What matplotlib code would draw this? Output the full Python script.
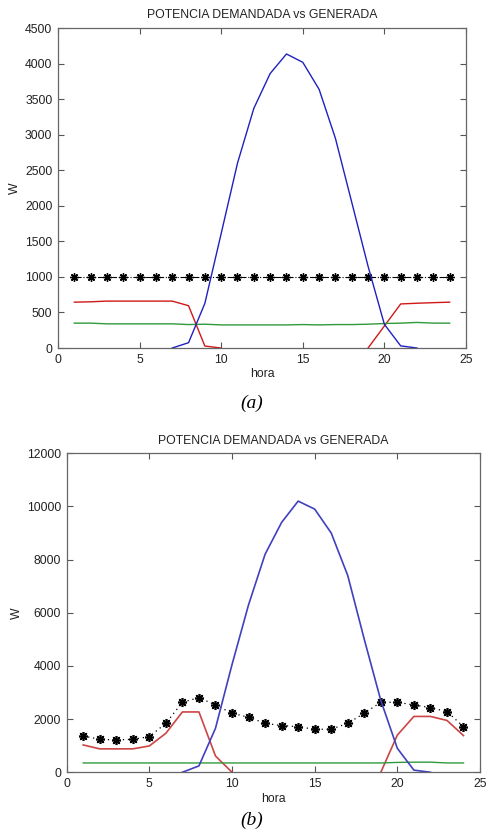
import numpy as np
import matplotlib
matplotlib.use("Agg")
import matplotlib.pyplot as plt

plt.rcParams['font.family'] = ['Liberation Sans', 'DejaVu Sans']

hours = np.arange(1, 25)

# --- caso (a) ---
# demanda constante
dem_a = [1000] * 24
# generacion solar (solo horas 7..22)
sol_hours_a = np.arange(7, 23)
sol_a = [0, 75, 628, 1610, 2600, 3370, 3860, 4135, 4018, 3638, 2949, 2050,
         1150, 333, 30, 0]
# red electrica: manana (1..10) y noche (19..24)
red_m_hours_a = np.arange(1, 11)
red_m_a = [645, 650, 660, 660, 660, 660, 660, 595, 28, 0]
red_n_hours_a = np.arange(19, 25)
red_n_a = [0, 310, 620, 630, 638, 645]
# otra fuente
gen_a = [350, 350, 340, 340, 340, 340, 340, 330, 335, 325, 325, 325,
         325, 325, 330, 325, 330, 330, 335, 345, 350, 360, 350, 350]

# --- caso (b) ---
dem_b = [1366, 1240, 1215, 1240, 1340, 1843, 2633, 2807, 2532, 2220, 2069, 1843,
         1755, 1716, 1617, 1617, 1843, 2220, 2633, 2633, 2532, 2432, 2281, 1716]
sol_hours_b = np.arange(7, 23)
sol_b = [0, 240, 1655, 4050, 6300, 8200, 9400, 10200, 9900, 9000, 7400, 5000,
         2700, 900, 80, 0]
red_m_hours_b = np.arange(1, 11)
red_m_b = [1027, 880, 880, 880, 990, 1467, 2269, 2269, 613, 0]
red_n_hours_b = np.arange(19, 25)
red_n_b = [0, 1400, 2100, 2100, 1950, 1380]
gen_b = [350] * 19 + [370, 380, 380, 350, 350]

title = 'POTENCIA DEMANDADA vs GENERADA'
star = (8, 2, 0)


def style_axes(ax, ymax, ystep):
    ax.set_xlim(0, 25)
    ax.set_ylim(0, ymax)
    ax.set_xticks(np.arange(0, 26, 5))
    ax.set_yticks(np.arange(0, ymax + 1, ystep))
    ax.tick_params(direction='in', top=True, right=True, length=4,
                   labelsize=8.8, colors='#555555', labelcolor='#222222', pad=4)
    for s in ax.spines.values():
        s.set_color('#666666')
        s.set_linewidth(0.9)
    ax.set_title(title, fontsize=8.8, color='#222222', pad=7)
    ax.set_xlabel('hora', fontsize=8.8, color='#222222', labelpad=2)
    ax.set_ylabel('W', fontsize=8.8, color='#222222', labelpad=3)


fig = plt.figure(figsize=(4.86, 8.32), dpi=100)

ax1 = fig.add_axes([0.1193, 0.5817, 0.8395, 0.3846])
ax1.plot(hours, dem_a, color='black', linestyle='-.', linewidth=0.8,
         marker=star, markersize=6, markeredgewidth=1.0)
ax1.plot(red_m_hours_a, red_m_a, color='#d01818', linewidth=1.0)
ax1.plot(red_n_hours_a, red_n_a, color='#d01818', linewidth=1.0)
ax1.plot(hours, gen_a, color='#2f9a3a', linewidth=1.0)
ax1.plot(sol_hours_a, sol_a, color='#2020c0', linewidth=1.0)
style_axes(ax1, 4500, 500)

ax2 = fig.add_axes([0.1372, 0.0718, 0.8505, 0.3834])
ax2.plot(hours, dem_b, color='black', linestyle=(0, (1, 3)), linewidth=0.9,
         marker=star, markersize=6.5, markeredgewidth=1.2)
ax2.plot(red_m_hours_b, red_m_b, color='#cc4444', linewidth=1.2)
ax2.plot(red_n_hours_b, red_n_b, color='#cc4444', linewidth=1.2)
ax2.plot(hours, gen_b, color='#2f9a3a', linewidth=1.0)
ax2.plot(sol_hours_b, sol_b, color='#4040c0', linewidth=1.2)
style_axes(ax2, 12000, 2000)

fig.text(252 / 486, 1 - 403 / 832, '(a)', family='Liberation Serif',
         style='italic', fontsize=14, ha='center', va='center')
fig.text(252 / 486, 1 - 820 / 832, '(b)', family='Liberation Serif',
         style='italic', fontsize=14, ha='center', va='center')

fig.savefig('out.png', dpi=100)
